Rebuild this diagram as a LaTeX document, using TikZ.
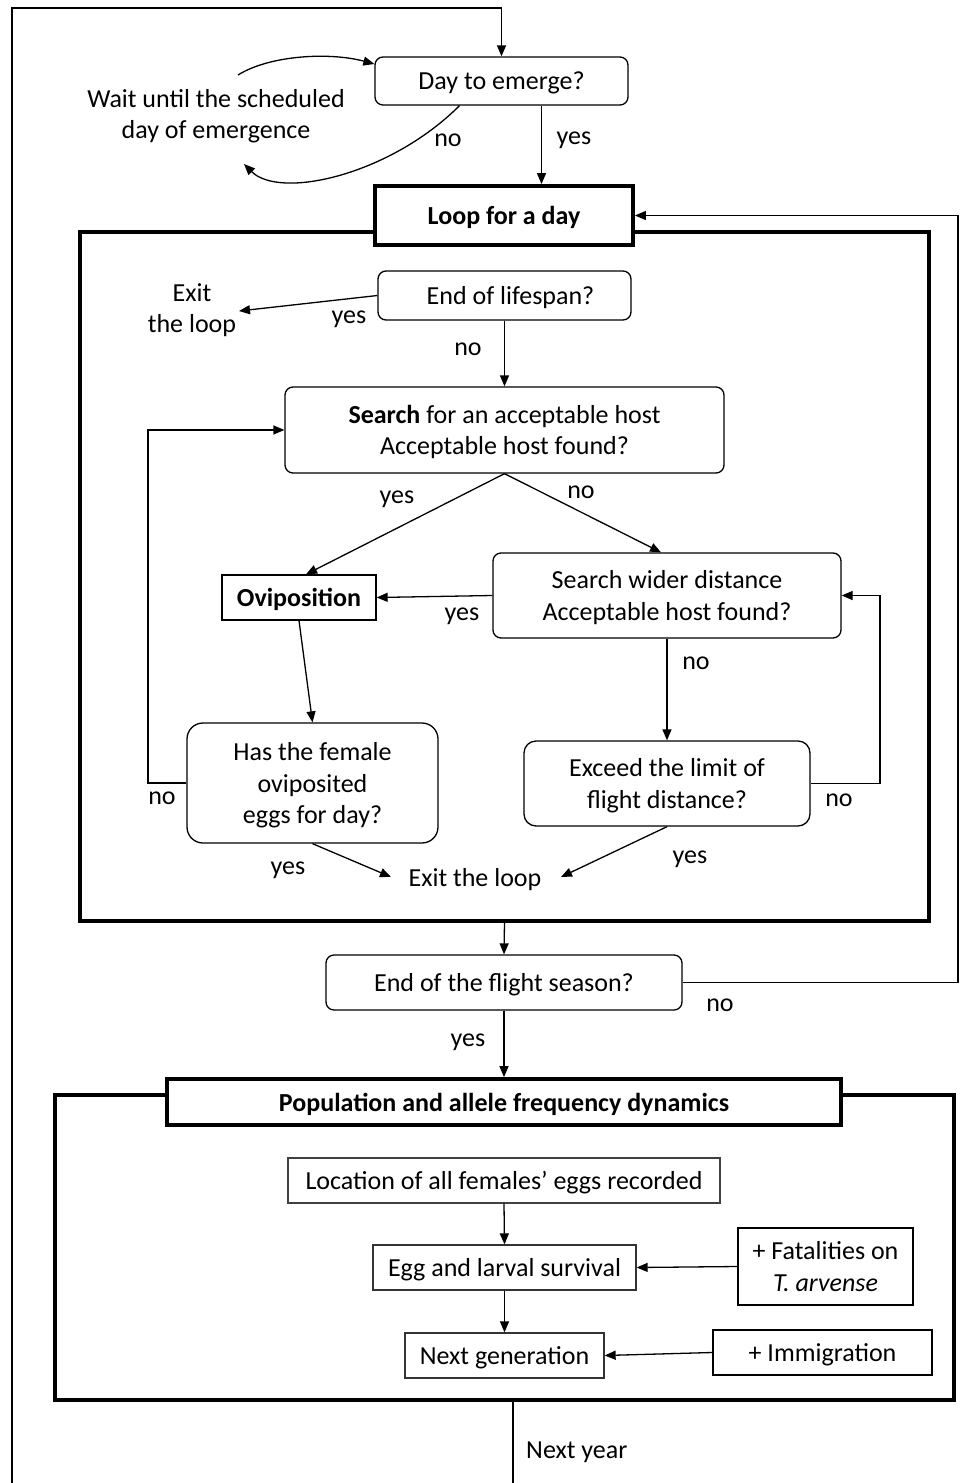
\documentclass[tikz,border=0pt]{standalone}
\usepackage{fontspec}
\setmainfont{Carlito}
\usetikzlibrary{arrows.meta}
\begin{document}
\begin{tikzpicture}[x=1pt,y=-1pt,
  every node/.style={font=\fontsize{26}{31.5}\selectfont, align=center, inner sep=2pt},
  rbox/.style={draw, rounded corners=8pt, line width=1.3pt, fill=white, text depth=0pt},
  sbox/.style={draw, line width=1.3pt, fill=white, text depth=0pt},
  thickbox/.style={draw, line width=3.8pt, fill=white, text depth=0pt},
  bigbox/.style={draw, line width=3.4pt},
  arr/.style={-{Triangle[length=11pt,width=9pt]}, line width=1.3pt},
  ln/.style={line width=1.3pt}]
\useasboundingbox (0,0) rectangle (959,1483);

% outer frames
\node[bigbox, minimum width=849pt, minimum height=689pt] (lbox) at (504.5,576.5) {};
\node[bigbox, minimum width=899pt, minimum height=305pt] (pbox) at (504.5,1247.5) {};

% top part
\node[rbox, minimum width=253pt, minimum height=48pt] (day) at (501.5,81) {Day to emerge?};
\node (wait) at (216,116) {Wait until the scheduled\\day of emergence};
\node[thickbox, minimum width=258pt, minimum height=59pt] (loop) at (504,215.5) {\bfseries Loop for a day};

% daily loop
\node[rbox, minimum width=253pt, minimum height=49pt] (life) at (504.5,295.5) {\hspace*{12pt}End of lifespan?};
\node (exitT) at (192,310) {Exit\\the loop};
\node[rbox, minimum width=439pt, minimum height=86pt] (search) at (504.5,430) {\textbf{Search} for an acceptable host\\Acceptable host found?};
\node[sbox, minimum width=154pt, minimum height=45pt] (ovi) at (299,597.5) {\bfseries Oviposition};
\node[rbox, minimum width=348pt, minimum height=85pt] (wider) at (667,595.5) {Search wider distance\\Acceptable host found?};
\node[rbox, rounded corners=16pt, minimum width=251pt, minimum height=120pt] (female) at (312.5,783) {Has the female\\oviposited\\eggs for day?};
\node[rbox, rounded corners=12pt, minimum width=286pt, minimum height=85pt] (exceed) at (667,783.5) {Exceed the limit of\\flight distance?};
\node (exitB) at (475,880) {Exit the loop};

% season
\node[rbox, minimum width=356pt, minimum height=55pt] (flight) at (504,982.5) {End of the flight season?};
\node[thickbox, minimum width=674pt, minimum height=46pt] (pop) at (504,1102) {\bfseries Population and allele frequency dynamics};
\node[sbox, draw=black!75, minimum width=432pt, minimum height=45pt] (loc) at (504,1180.5) {Location of all females’ eggs recorded};
\node[sbox, draw=black!80, minimum width=263pt, minimum height=45pt] (egg) at (504.5,1267.5) {Egg and larval survival};
\node[sbox, minimum width=175pt, minimum height=77pt] (fat) at (825.5,1266.5) {+ Fatalities on\\\textit{T. arvense}};
\node[sbox, draw=black!80, minimum width=199pt, minimum height=45pt] (next) at (504.5,1355.5) {Next generation};
\node[sbox, line width=2pt, minimum width=219pt, minimum height=45pt] (imm) at (822.5,1352.5) {+ Immigration};
\node[anchor=west] (ny) at (524,1452) {Next year};

% coordinates
\coordinate (oB) at (12,1483);
\coordinate (oT) at (12,8);
\coordinate (wA) at (238,75);
\coordinate (wB) at (244,164);
\coordinate (rR) at (958,600);
\coordinate (exT) at (239,311);
\coordinate (lL) at (148,600);
\coordinate (rW) at (880,700);
\coordinate (exL) at (391,877);
\coordinate (exR) at (561,877);
\coordinate (nyB) at (513,1483);

% connectors
\draw[arr] (oB) -- (oT) -| (day.north);
\draw[arr] (wA) .. controls (270,55) and (330,52) .. ([yshift=17pt]day.west);
\draw[arr] ([xshift=-42pt]day.south) .. controls (390,175) and (280,200) .. (wB);
\draw[arr] ([xshift=40pt]day.south) -- ([xshift=40pt]day.south |- loop.north);
\draw[arr] (flight.east) -| (rR) |- (loop.east);

\draw[arr] (life.west) -- (exT);
\draw[arr] (life.south) -- (search.north);
\draw[arr] (search.south) -- ([xshift=7pt]ovi.north);
\draw[arr] (search.south) -- ([xshift=-6pt]wider.north);
\draw[arr] (wider.west) -- (ovi.east);
\draw[arr] (ovi.south) -- (female.north);
\draw[arr] (wider.south) -- (exceed.north);
\draw[arr] (female.west) -| (lL) |- (search.west);
\draw[arr] (exceed.east) -| (rW) |- (wider.east);
\draw[arr] (female.south) -- (exL);
\draw[arr] (exceed.south) -- (exR);

\draw[arr] (lbox.south) -- (flight.north);
\draw[arr] (flight.south) -- (pop.north);
\draw[arr] (loc.south) -- (egg.north);
\draw[arr] (fat.west) -- (egg.east);
\draw[arr] (egg.south) -- (next.north);
\draw[arr] (imm.west) -- (next.east);
\draw[ln] ([xshift=8.5pt]pbox.south) -- (nyB);

% labels
\node at (448,140) {no};
\node at (574,140) {yes};
\node at (349,319) {yes};
\node at (468,349) {no};
\node at (397,499) {yes};
\node at (581,492) {no};
\node at (462,616) {yes};
\node at (696,663) {no};
\node at (162,798) {no};
\node at (839,800) {no};
\node at (288,870) {yes};
\node at (690,859) {yes};
\node at (720,1005) {no};
\node at (468,1042) {yes};
\end{tikzpicture}
\end{document}
